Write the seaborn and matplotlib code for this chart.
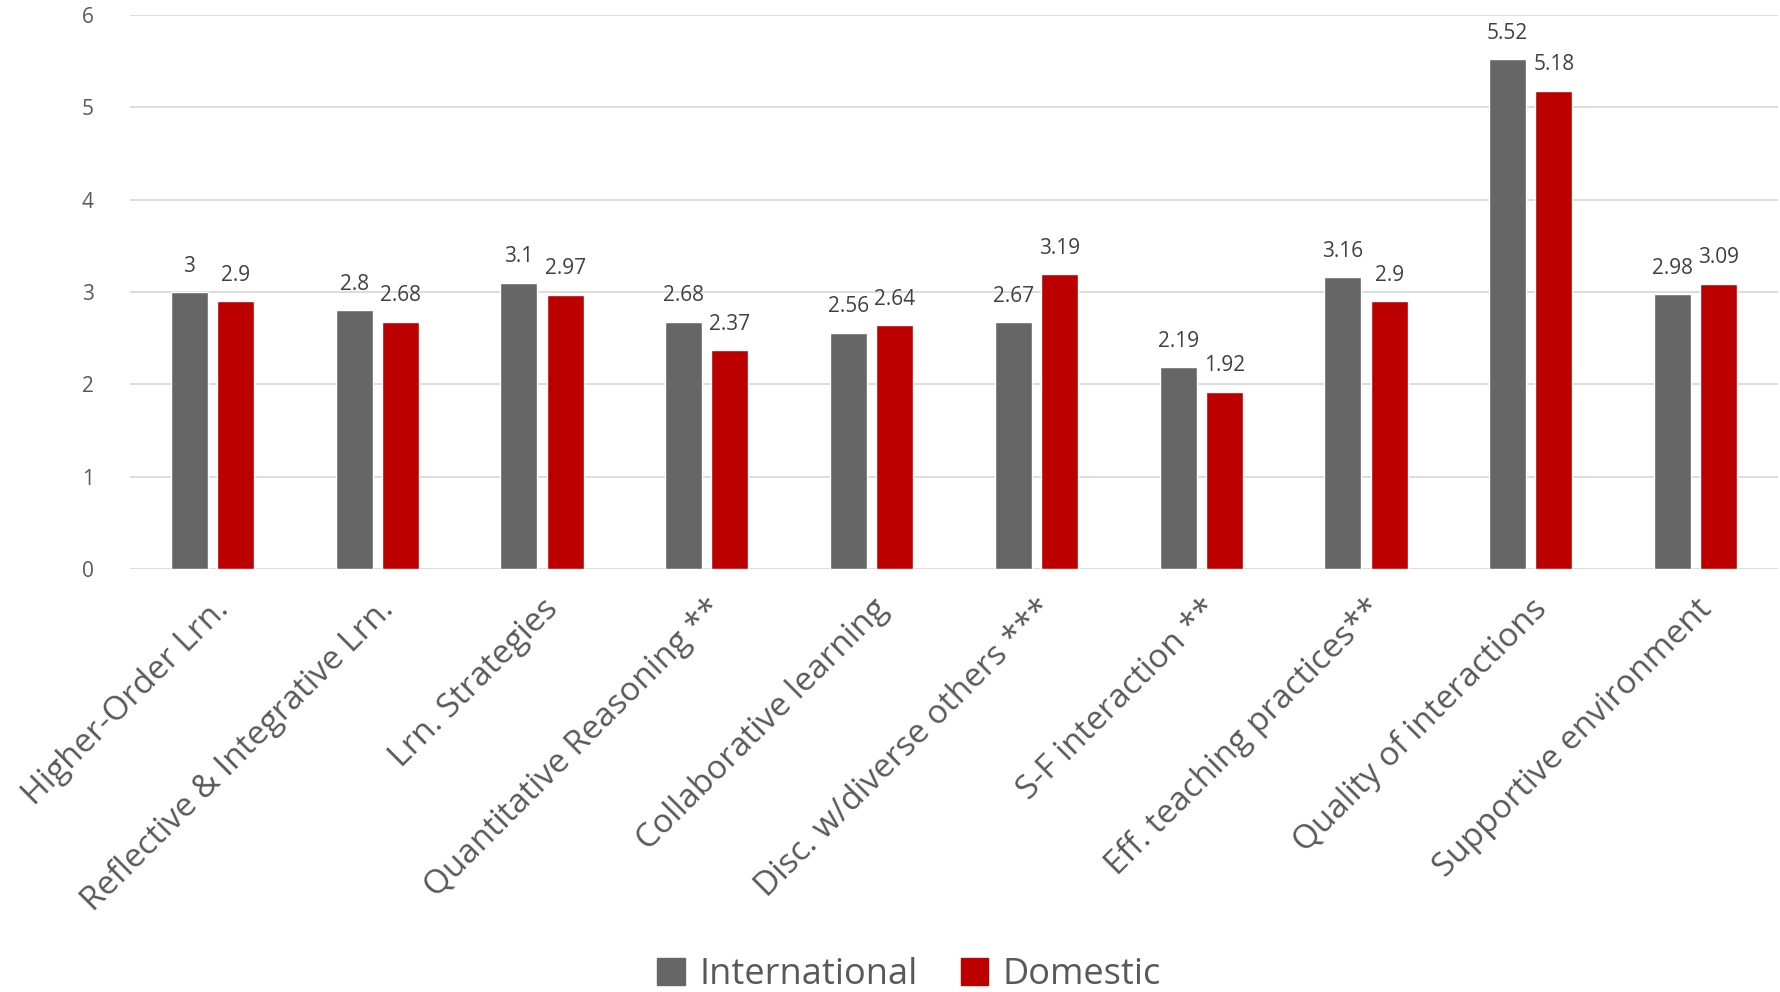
import matplotlib
matplotlib.use("Agg")
import matplotlib.pyplot as plt
import pandas as pd
import seaborn as sns

categories = [
    "Higher-Order Lrn.",
    "Reflective & Integrative Lrn.",
    "Lrn. Strategies",
    "Quantitative Reasoning **",
    "Collaborative learning",
    "Disc. w/diverse others ***",
    "S-F interaction **",
    "Eff. teaching practices**",
    "Quality of interactions",
    "Supportive environment",
]
international = [3.0, 2.8, 3.1, 2.68, 2.56, 2.67, 2.19, 3.16, 5.52, 2.98]
domestic = [2.9, 2.68, 2.97, 2.37, 2.64, 3.19, 1.92, 2.9, 5.18, 3.09]
groups = ["International", "Domestic"]
colors = ["#666666", "#BC0000"]

df = pd.DataFrame({
    "category": categories * 2,
    "value": international + domestic,
    "group": [groups[0]] * len(categories) + [groups[1]] * len(categories),
})

sns.set_style("white")
plt.rcParams["font.family"] = ["Open Sans", "DejaVu Sans"]
text_color = "#595959"

fig = plt.figure(figsize=(17.81, 9.92), dpi=100)
ax = fig.add_axes([130 / 1781, 1 - 569 / 992, (1778 - 130) / 1781, (569 - 15) / 992])

sns.barplot(data=df, x="category", y="value", hue="group", order=categories,
            hue_order=groups, palette=colors, width=0.56, gap=0.2,
            saturation=1, ax=ax, legend=False, errorbar=None)

# value labels
for cont in ax.containers:
    ax.bar_label(cont, labels=[f"{v:g}" for v in cont.datavalues], padding=11,
                 fontsize=15, color="#404040")

ax.set_ylim(0, 6)
ax.set_yticks(range(7))
ax.yaxis.grid(True, color="#D9D9D9", linewidth=1.3)
ax.set_axisbelow(True)
for s in ax.spines.values():
    s.set_visible(False)
ax.tick_params(axis="y", length=0, pad=26, labelsize=15, labelcolor=text_color)
ax.tick_params(axis="x", length=0, pad=17, labelsize=24, labelcolor=text_color)
ax.set_xticks(range(len(categories)))
ax.set_xticklabels(categories, rotation=45, ha="right", rotation_mode="anchor")
ax.set_xlabel("")
ax.set_ylabel("")

handles = [plt.Rectangle((0, 0), 1, 1, color=c) for c in colors]
fig.legend(handles, groups, loc="center", bbox_to_anchor=(909 / 1781, 1 - 975 / 992),
           ncol=2, frameon=False, fontsize=26, labelcolor=text_color,
           handlelength=0.75, handleheight=0.75, handletextpad=0.4, columnspacing=1.2)

fig.savefig("out.png", dpi=100)
